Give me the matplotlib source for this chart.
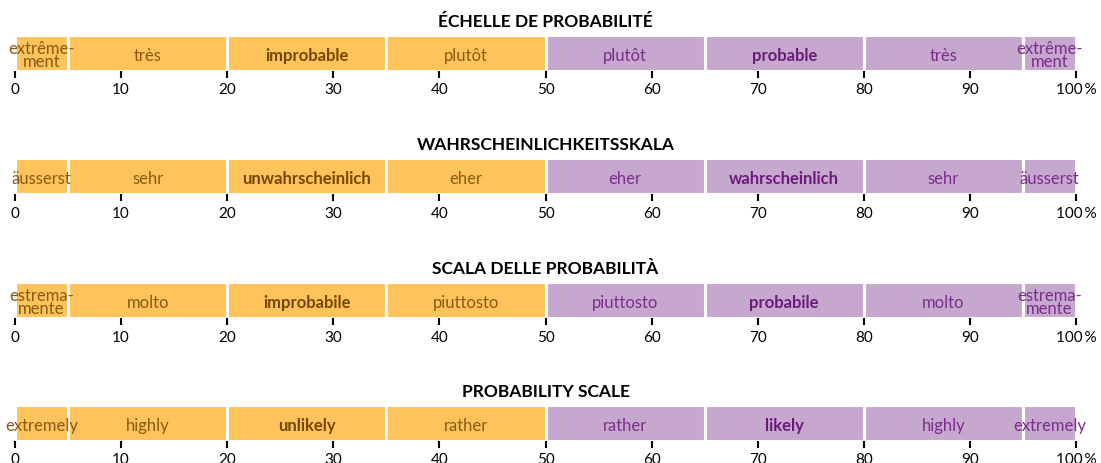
import numpy as np
import matplotlib
matplotlib.use("Agg")
import matplotlib.pyplot as plt

plt.rcParams["font.family"] = ["Lato", "DejaVu Sans"]

# segment boundaries in percent
edges = [0, 5, 20, 35, 50, 65, 80, 95, 100]

titles = [
    "ÉCHELLE DE PROBABILITÉ",
    "WAHRSCHEINLICHKEITSSKALA",
    "SCALA DELLE PROBABILITÀ",
    "PROBABILITY SCALE",
]
labels_fr = ["extrême-\nment", "très", "improbable", "plutôt",
             "plutôt", "probable", "très", "extrême-\nment"]
labels_de = ["äusserst", "sehr", "unwahrscheinlich", "eher",
             "eher", "wahrscheinlich", "sehr", "äusserst"]
labels_it = ["estrema-\nmente", "molto", "improbabile", "piuttosto",
             "piuttosto", "probabile", "molto", "estrema-\nmente"]
labels_en = ["extremely", "highly", "unlikely", "rather",
             "rather", "likely", "highly", "extremely"]
all_labels = [labels_fr, labels_de, labels_it, labels_en]

tick_values = list(range(0, 101, 10))
tick_labels = [str(v) for v in tick_values[:-1]] + ["100\u2009%"]

ORANGE = "#FEC35B"
PURPLE = "#C6A8CF"
TXT_LEFT = "#8A5A12"
TXT_LEFT_BOLD = "#774600"
TXT_RIGHT = "#7C2C8C"
TXT_RIGHT_BOLD = "#6B1A7C"

W, H = 1101, 463
fig = plt.figure(figsize=(W / 100, H / 100), dpi=100)

bar_tops = [35, 158, 282, 405]
bar_h = 36
x0_px, x1_px = 15, 1076

for top, title, labels in zip(bar_tops, titles, all_labels):
    ax = fig.add_axes([x0_px / W, 1 - (top + bar_h) / H,
                       (x1_px - x0_px) / W, bar_h / H])
    lefts = np.array(edges[:-1])
    widths = np.diff(edges)
    colors = [ORANGE if l < 50 else PURPLE for l in lefts]
    ax.barh(0, widths, left=lefts, height=1.0, color=colors,
            edgecolor="white", linewidth=2.2)
    for i, (l, w, lab) in enumerate(zip(lefts, widths, labels)):
        left_side = l < 50
        bold = i in (2, 5)
        if bold:
            col = TXT_LEFT_BOLD if left_side else TXT_RIGHT_BOLD
        else:
            col = TXT_LEFT if left_side else TXT_RIGHT
        ax.text(l + w / 2, -0.07, lab, ha="center", va="center",
                fontsize=12, color=col,
                fontweight="bold" if bold else "normal",
                linespacing=0.75)
    ax.set_xlim(0, 100)
    ax.set_ylim(-0.5, 0.5)
    ax.set_yticks([])
    ax.set_xticks(tick_values)
    ax.set_xticklabels(tick_labels, fontsize=11)
    ax.tick_params(axis="x", length=5, width=1.5, color="black", pad=4)
    for s in ax.spines.values():
        s.set_visible(False)
    ax.set_title(title, fontsize=12.5, fontweight="bold", pad=6)

fig.savefig("out.png", dpi=100)
